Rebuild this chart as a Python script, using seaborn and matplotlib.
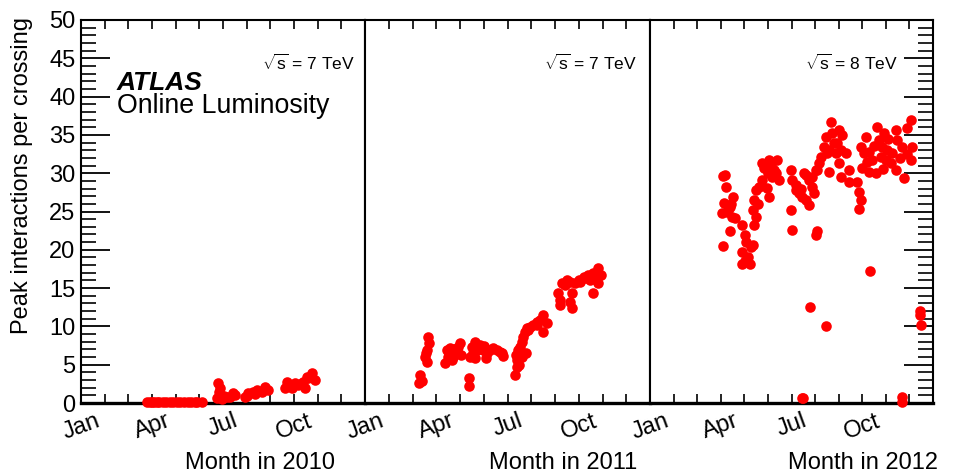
import matplotlib
matplotlib.use('Agg')
import matplotlib.pyplot as plt
import seaborn as sns
import pandas as pd

# Peak interactions per crossing (x = month of the year, 0 = 1 Jan)
month_2010 = [2.78, 2.9, 3.0, 3.1, 3.2, 3.3, 3.45, 3.6, 3.75, 3.88, 4.05, 4.2, 4.35, 4.5, 4.65,
              4.8, 4.89, 5.11,
              5.78, 5.86, 5.74, 5.95, 6.16, 6.41, 6.50, 6.29, 5.82, 6.05,
              6.92, 7.05, 7.26, 7.43, 7.64, 7.76, 7.89, 7.35, 7.0,
              8.61, 8.69, 8.90, 9.03, 9.16, 9.37, 9.45, 9.54, 9.58, 9.75, 9.87, 8.75, 9.25]
mu_2010 = [0.1, 0.1, 0.1, 0.1, 0.1, 0.1, 0.1, 0.1, 0.1, 0.1, 0.1, 0.1, 0.1, 0.1, 0.1,
           0.1, 0.1, 0.1,
           2.6, 2.0, 0.7, 0.5, 0.8, 1.3, 1.0, 0.8, 1.5, 0.9,
           0.8, 1.3, 1.4, 1.7, 1.4, 2.1, 1.7, 1.2, 0.9,
           2.0, 2.7, 2.0, 2.6, 2.3, 2.7, 2.0, 3.4, 3.3, 3.9, 3.0, 2.3, 2.5]

month_2011 = [2.28, 2.32, 2.41,
              2.66, 2.70, 2.62, 2.53, 2.62, 2.57,
              3.38, 3.46, 3.50, 3.59, 3.71, 3.67, 3.88, 4.01, 3.92, 3.80, 4.05, 3.55, 3.75,
              4.39, 4.39,
              4.43, 4.64, 4.85, 4.73, 4.64, 4.56, 4.98, 5.11, 5.15, 5.27, 5.40, 5.57, 5.70,
              5.82, 5.78, 4.5, 5.0,
              6.33, 6.41, 6.41, 6.37, 6.46, 6.54, 6.62, 6.67, 6.75, 6.84, 6.88, 6.79, 6.62,
              6.96, 7.09, 7.26, 7.38, 7.51, 7.68, 7.51, 7.26, 6.5,
              8.14, 8.23, 8.31, 8.52, 8.65, 8.73, 8.65, 8.73, 8.86, 9.07, 9.20, 9.41, 9.62,
              9.83, 9.92, 9.83, 9.62, 9.49, 9.28, 8.44, 8.2, 9.0, 9.7]
mu_2011 = [2.6, 3.7, 2.9,
           8.6, 7.8, 6.9, 6.0, 5.4, 6.5,
           5.2, 6.9, 6.0, 7.2, 6.0, 5.6, 6.9, 7.8, 7.3, 6.5, 6.3, 6.5, 7.0,
           3.3, 2.2,
           6.0, 8.0, 7.6, 6.9, 5.9, 6.5, 6.9, 5.9, 6.5, 6.9, 7.2, 6.9, 6.7,
           6.1, 6.5, 7.3, 7.5,
           3.7, 4.7, 5.6, 6.3, 6.9, 7.3, 8.0, 8.6, 9.3, 9.8, 9.5, 6.5, 6.0,
           9.9, 10.2, 10.6, 10.8, 11.5, 10.4, 9.3, 10.2, 5.0,
           14.4, 12.8, 15.7, 16.1, 15.8, 14.4, 13.2, 12.4, 15.7, 15.8, 16.5, 16.7, 17.0,
           17.6, 16.7, 15.7, 14.4, 16.1, 16.3, 15.4, 13.5, 16.0, 16.2]

month_2012 = [3.16, 3.08, 3.21, 3.12, 3.04, 3.38, 3.50, 3.46, 3.59, 3.29, 3.38, 3.08, 3.25, 3.42,
              3.92, 4.01, 3.92, 4.09, 4.30, 4.35, 3.88, 4.22, 4.14, 4.03,
              4.43, 4.51, 4.35, 4.43, 4.51, 4.64, 4.77, 4.73, 4.85, 5.06, 5.15, 5.27, 5.40,
              5.49, 5.06, 4.94, 5.19, 5.36, 4.6, 5.0,
              5.99, 6.03, 6.20, 6.33, 6.46, 6.62, 6.54, 6.75, 6.88, 6.96, 6.75, 5.99, 6.03,
              7.05, 7.09, 7.09, 6.2, 6.4,
              6.62, 6.88, 7.05, 7.17, 7.26, 7.38, 7.47, 7.68, 7.72, 8.02, 8.14, 7.93, 7.89,
              8.10, 8.31, 8.02, 8.10, 8.44, 8.44, 8.78, 8.86, 8.95, 8.86, 7.59, 7.51, 7.8, 7.6,
              8.95, 9.16, 9.07, 8.99, 9.28, 9.58, 9.62, 9.70, 9.92, 9.83, 10.04, 10.00, 10.25,
              10.42, 10.46, 10.68, 10.42, 10.76, 10.89, 11.05, 11.10, 11.05, 9.41, 10.21, 9.28,
              9.79, 9.2, 9.5, 10.1, 10.6, 10.9, 9.9,
              9.32, 6.79, 7.47, 11.43, 11.43, 11.48, 6.50, 6.46, 10.68, 10.68]
mu_2012 = [29.8, 29.6, 28.2, 26.1, 24.8, 25.6, 26.9, 24.3, 24.2, 25.2, 22.5, 20.5, 25.0, 26.0,
           23.2, 21.9, 19.7, 21.0, 20.4, 20.6, 18.1, 18.1, 19.1, 18.6,
           23.2, 24.3, 25.2, 26.5, 27.8, 28.2, 29.1, 31.3, 30.7, 31.7, 31.1, 30.4, 31.7,
           29.1, 26.9, 28.1, 29.5, 30.0, 26.0, 30.0,
           30.4, 29.1, 27.8, 27.4, 26.9, 26.5, 30.0, 29.1, 28.2, 27.4, 25.8, 25.2, 22.6,
           21.9, 22.4, 30.4, 28.5, 28.0,
           29.8, 29.5, 30.4, 31.3, 32.1, 33.4, 34.7, 36.7, 35.2, 35.6, 35.0, 33.9, 32.6,
           33.0, 32.6, 31.3, 29.5, 30.4, 28.9, 28.9, 27.5, 26.5, 25.3, 30.2, 32.6, 34.0, 33.0,
           33.4, 34.7, 32.6, 30.7, 30.2, 30.0, 36.0, 34.3, 35.2, 33.4, 33.0, 31.7, 32.6,
           35.6, 34.3, 33.4, 30.4, 29.4, 35.9, 36.9, 33.4, 31.7, 31.7, 31.3, 32.8,
           32.1, 31.5, 33.5, 34.5, 32.0, 32.5, 30.5,
           17.2, 12.5, 10.1, 12.0, 11.5, 10.2, 0.65, 0.6, 0.8, 0.1]

years = ["2010", "2011", "2012"]
energies = ["7", "7", "8"]
month_ticks = ["Jan", "", "", "Apr", "", "", "Jul", "", "", "Oct", "", "", ""]

sns.set_style("ticks")
plt.rcParams['font.family'] = ['Liberation Sans', 'DejaVu Sans']
plt.rcParams['mathtext.fontset'] = 'custom'
plt.rcParams['mathtext.rm'] = 'Liberation Sans'
plt.rcParams['text.color'] = 'black'
plt.rcParams['xtick.color'] = 'black'
plt.rcParams['ytick.color'] = 'black'
plt.rcParams['axes.labelcolor'] = 'black'

W, H = 956, 476
fig = plt.figure(figsize=(W / 100, H / 100), dpi=100)

panel_left = [81, 365, 650]
panel_right = [365, 650, 933]
xlabel_right = [335, 637, 938]
energy_right = [355, 637, 898]
data = [(month_2010, mu_2010), (month_2011, mu_2011), (month_2012, mu_2012)]

for i in range(3):
    x0, x1 = panel_left[i], panel_right[i]
    ax = fig.add_axes([x0 / W, (H - 403) / H, (x1 - x0) / W, 383 / H])
    df = pd.DataFrame({"Mes": data[i][0], "Mu": data[i][1]})
    sns.scatterplot(data=df, x="Mes", y="Mu", ax=ax, color="red", s=58,
                    linewidth=0, zorder=3, clip_on=False)
    ax.set_xlim(0, 12)
    ax.set_ylim(0, 50)
    ax.set_xlabel("")
    ax.set_ylabel("")

    ax.set_xticks(range(13))
    ax.set_xticklabels(month_ticks, fontsize=17, rotation=20, ha="center")
    ax.tick_params(axis="x", direction="in", length=6.5, width=1.2, top=True,
                   bottom=True, pad=5)

    ax.set_yticks(range(0, 51, 5))
    ax.set_yticks(range(0, 51), minor=True)
    ax.tick_params(axis="y", which="major", direction="in", length=21, width=1.3,
                   labelsize=17, pad=4)
    ax.tick_params(axis="y", which="minor", direction="in", length=11, width=1.2)
    ax.tick_params(axis="y", which="both", left=(i == 0), right=(i == 2),
                   labelleft=(i == 0), labelright=False)

    for side in ["top", "left", "right"]:
        ax.spines[side].set_linewidth(1.5)
        ax.spines[side].set_color("black")
    ax.spines["bottom"].set_linewidth(2.4)
    ax.spines["bottom"].set_color("black")

    fig.text(energy_right[i] / W, 1 - 63 / H,
             r"$\sqrt{\mathrm{s}}$ = " + energies[i] + " TeV",
             ha="right", va="center", fontsize=12.5)
    fig.text(xlabel_right[i] / W, 1 - 463 / H, "Month in " + years[i],
             ha="right", va="center", fontsize=17)

fig.text(22 / W, 1 - 17 / H, "Peak interactions per crossing", rotation=90,
         ha="center", va="top", fontsize=17)
fig.text(117 / W, 1 - 90 / H, "ATLAS", fontsize=19, weight="bold", style="italic",
         va="baseline")
fig.text(117 / W, 1 - 113 / H, "Online Luminosity", fontsize=19.3, va="baseline")

plt.savefig("out.png", dpi=100)
plt.close()
